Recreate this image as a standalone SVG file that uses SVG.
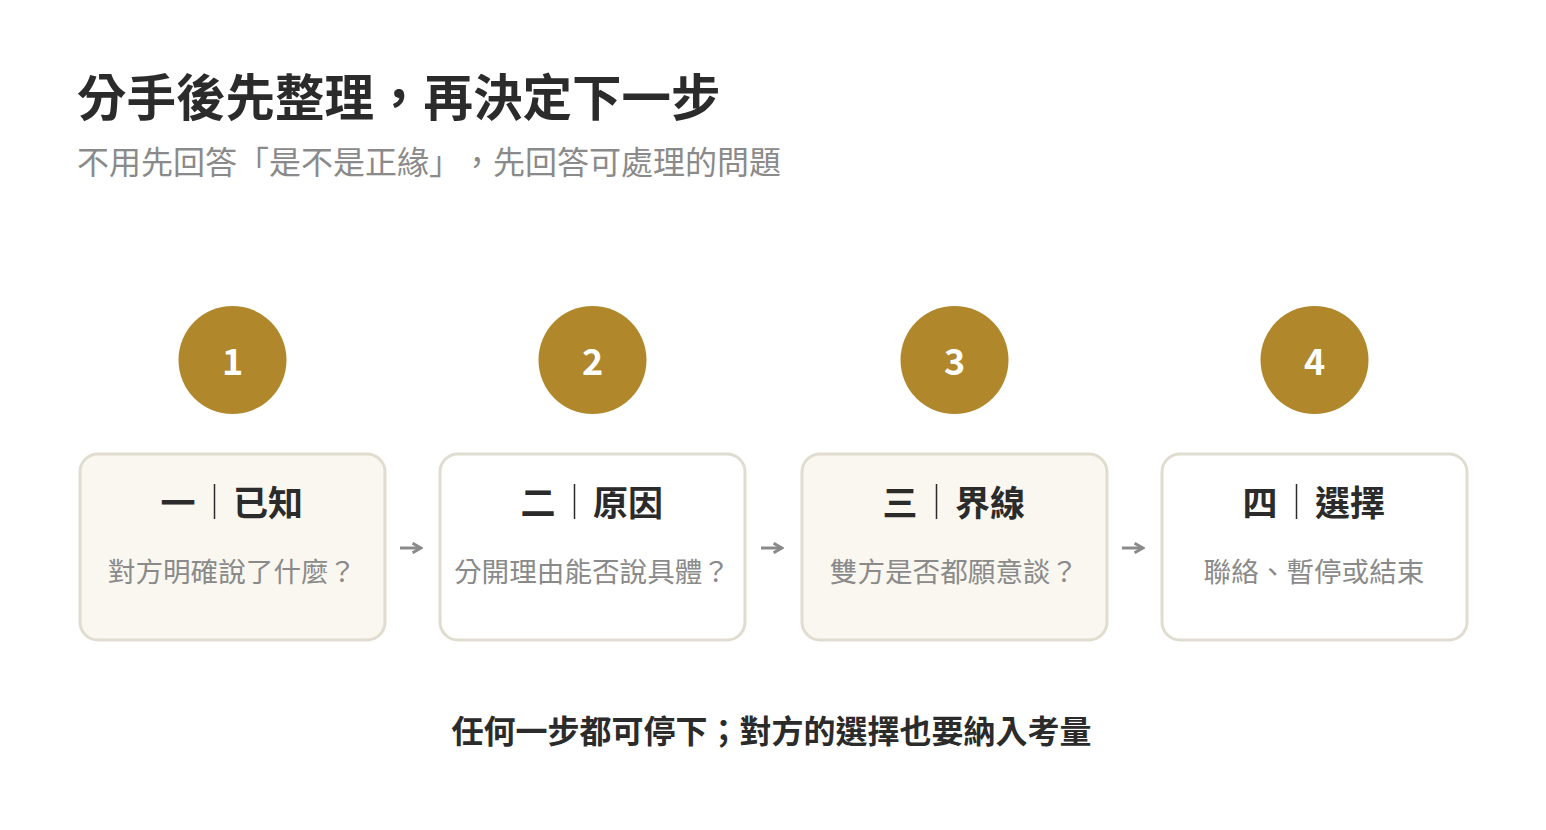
<svg xmlns="http://www.w3.org/2000/svg" width="1546" height="830" viewBox="0 0 1546 830">
<defs>
<style>
text{font-family:"Noto Sans CJK TC","Noto Sans CJK SC",sans-serif;}
.title{font-size:49.5px;font-weight:700;fill:#2b2b2b;}
.sub{font-size:32px;fill:#8a8a8a;}
.box{stroke:#e0dcd0;stroke-width:3;}
.fa{fill:#f9f7f0;}
.fb{fill:#ffffff;}
.circ{fill:#b0872b;}
.num{font-size:36px;font-weight:700;fill:#ffffff;text-anchor:middle;}
.head{font-size:35px;font-weight:700;fill:#2b2b2b;}
.sep{stroke:#2b2b2b;stroke-width:1.5;}
.desc{font-size:27.6px;fill:#8a8a8a;text-anchor:middle;}
.foot{font-size:32px;font-weight:700;fill:#2b2b2b;text-anchor:middle;}
.conn{stroke:#8a8a8a;stroke-width:3;fill:none;}
</style>
<marker id="ah" viewBox="0 0 10 10" refX="8" refY="5" markerWidth="4" markerHeight="4" orient="auto" markerUnits="strokeWidth">
<path d="M1,1 L8,5 L1,9" fill="none" stroke="#8a8a8a" stroke-width="2.4"/>
</marker>
</defs>
<rect width="1546" height="830" fill="#ffffff"/>
<g id="header">
<text class="title" x="77" y="116">分手後先整理，再決定下一步</text>
<text class="sub" x="77" y="174">不用先回答「是不是正緣」<tspan x="461">，先回答可處理的問題</tspan></text>
</g>
<g id="step1">
<circle class="circ" cx="232.5" cy="360" r="54"/>
<text class="num" x="232.5" y="375">1</text>
<rect class="box fa" x="80" y="454" width="305" height="186" rx="18"/>
<text class="head" x="178" y="516" text-anchor="middle">一</text>
<line class="sep" x1="214.5" y1="484" x2="214.5" y2="519"/>
<text class="head" x="233" y="516">已知</text>
<text class="desc" x="232" y="582">對方明確說了什麼？</text>
</g>
<g id="step2">
<circle class="circ" cx="592.5" cy="360" r="54"/>
<text class="num" x="592.5" y="375">2</text>
<rect class="box fb" x="440" y="454" width="305" height="186" rx="18"/>
<text class="head" x="538" y="516" text-anchor="middle">二</text>
<line class="sep" x1="574.5" y1="484" x2="574.5" y2="519"/>
<text class="head" x="593" y="516">原因</text>
<text class="desc" x="592" y="582">分開理由能否說具體？</text>
</g>
<g id="step3">
<circle class="circ" cx="954.5" cy="360" r="54"/>
<text class="num" x="954.5" y="375">3</text>
<rect class="box fa" x="802" y="454" width="305" height="186" rx="18"/>
<text class="head" x="900" y="516" text-anchor="middle">三</text>
<line class="sep" x1="936.5" y1="484" x2="936.5" y2="519"/>
<text class="head" x="955" y="516">界線</text>
<text class="desc" x="954" y="582">雙方是否都願意談？</text>
</g>
<g id="step4">
<circle class="circ" cx="1314.5" cy="360" r="54"/>
<text class="num" x="1314.5" y="375">4</text>
<rect class="box fb" x="1162" y="454" width="305" height="186" rx="18"/>
<text class="head" x="1260" y="516" text-anchor="middle">四</text>
<line class="sep" x1="1296.5" y1="484" x2="1296.5" y2="519"/>
<text class="head" x="1315" y="516">選擇</text>
<text class="desc" x="1314" y="582">聯絡、暫停或結束</text>
</g>
<g id="connectors">
<line class="conn" x1="400" y1="548" x2="421" y2="548" marker-end="url(#ah)"/>
<line class="conn" x1="761" y1="548" x2="782" y2="548" marker-end="url(#ah)"/>
<line class="conn" x1="1122" y1="548" x2="1143" y2="548" marker-end="url(#ah)"/>
</g>
<g id="footer">
<text class="foot" x="771.5" y="743">任何一步都可停下；對方的選擇也要納入考量</text>
</g>
</svg>
